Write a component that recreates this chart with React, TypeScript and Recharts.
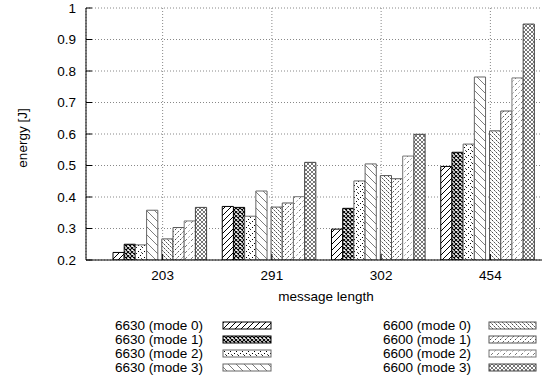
import React from 'react';
import { BarChart, Bar, XAxis, YAxis, CartesianGrid } from 'recharts';

const categories = ['203', '291', '302', '454'];
const s6630m0 = [0.224, 0.37, 0.298, 0.497];
const s6630m1 = [0.25, 0.367, 0.364, 0.542];
const s6630m2 = [0.248, 0.339, 0.451, 0.568];
const s6630m3 = [0.358, 0.419, 0.505, 0.781];
const s6600m0 = [0.267, 0.368, 0.468, 0.61];
const s6600m1 = [0.303, 0.381, 0.458, 0.673];
const s6600m2 = [0.324, 0.401, 0.53, 0.778];
const s6600m3 = [0.367, 0.51, 0.599, 0.949];
const yTicks = [0.2, 0.3, 0.4, 0.5, 0.6, 0.7, 0.8, 0.9, 1];

const series = [
  { key: 'a0', name: '6630 (mode 0)', values: s6630m0, pat: 'p0', stroke: '#000' },
  { key: 'a1', name: '6630 (mode 1)', values: s6630m1, pat: 'p1', stroke: '#000' },
  { key: 'a2', name: '6630 (mode 2)', values: s6630m2, pat: 'p2', stroke: '#666' },
  { key: 'a3', name: '6630 (mode 3)', values: s6630m3, pat: 'p3', stroke: '#666' },
  { key: 'b0', name: '6600 (mode 0)', values: s6600m0, pat: 'p4', stroke: '#555' },
  { key: 'b1', name: '6600 (mode 1)', values: s6600m1, pat: 'p5', stroke: '#555' },
  { key: 'b2', name: '6600 (mode 2)', values: s6600m2, pat: 'p6', stroke: '#777' },
  { key: 'b3', name: '6600 (mode 3)', values: s6600m3, pat: 'p7', stroke: '#444' },
];

const data = categories.map((c, i) => {
  const row: Record<string, any> = { name: c };
  series.forEach((s) => (row[s.key] = s.values[i]));
  return row;
});

const FONT = '"Liberation Sans", Arial, sans-serif';
const FS = 13.5;
const LEG_FS = 12.5;
const ROW = 14;

function Patterns() {
  return (
    <svg width={0} height={0} style={{ position: 'absolute' }}>
      <defs>
        <pattern id="p0" width={6} height={6} patternUnits="userSpaceOnUse">
          <rect width={6} height={6} fill="#fff" />
          <path d="M0,6 L6,0 M-1,1 L1,-1 M5,7 L7,5" stroke="#000" strokeWidth={1} />
        </pattern>
        <pattern id="p1" width={4} height={4} patternUnits="userSpaceOnUse">
          <rect width={4} height={4} fill="#fff" />
          <path d="M0,0 L4,4 M4,0 L0,4" stroke="#000" strokeWidth={1.1} />
        </pattern>
        <pattern id="p2" width={6} height={6} patternUnits="userSpaceOnUse">
          <rect width={6} height={6} fill="#fff" />
          <rect x={0} y={5} width={1} height={1} fill="#000" />
          <rect x={2} y={3} width={1} height={1} fill="#000" />
          <rect x={4} y={1} width={1} height={1} fill="#222" />
          <rect x={3} y={0} width={1} height={1} fill="#555" />
        </pattern>
        <pattern id="p3" width={8} height={8} patternUnits="userSpaceOnUse">
          <rect width={8} height={8} fill="#fff" />
          <path d="M0,0 L8,8 M-1,7 L1,9 M7,-1 L9,1" stroke="#444" strokeWidth={0.7} />
        </pattern>
        <pattern id="p4" width={4} height={4} patternUnits="userSpaceOnUse">
          <rect width={4} height={4} fill="#fff" />
          <path d="M0,0 L4,4" stroke="#333" strokeWidth={0.9} strokeDasharray="2 1" />
        </pattern>
        <pattern id="p5" width={5} height={5} patternUnits="userSpaceOnUse">
          <rect width={5} height={5} fill="#fff" />
          <path d="M0,5 L5,0" stroke="#333" strokeWidth={0.9} strokeDasharray="2 1.5" />
        </pattern>
        <pattern id="p6" width={6} height={6} patternUnits="userSpaceOnUse">
          <rect width={6} height={6} fill="#fff" />
          <path d="M0,6 L6,0" stroke="#555" strokeWidth={0.8} strokeDasharray="1.5 2" />
        </pattern>
        <pattern id="p7" width={4} height={4} patternUnits="userSpaceOnUse">
          <rect width={4} height={4} fill="#fff" />
          <path d="M0,0 L4,4 M4,0 L0,4" stroke="#555" strokeWidth={0.8} />
        </pattern>
      </defs>
    </svg>
  );
}

export default function App() {
  const left = series.slice(0, 4);
  const right = series.slice(4);
  return (
    <div
      style={{
        position: 'absolute',
        left: 0,
        top: 0,
        width: 542,
        height: 391,
        overflow: 'hidden',
        background: '#fff',
        fontFamily: FONT,
      }}
    >
      <Patterns />
      <BarChart
        width={600}
        height={300}
        data={data}
        margin={{ top: 8, right: 33, left: 0, bottom: 0 }}
        barGap={0}
        barCategoryGap={0}
      >
        <CartesianGrid stroke="#888" strokeDasharray="1 2" />
        <XAxis
          dataKey="name"
          height={40}
          padding={{ left: 22, right: 22 }}
          axisLine={{ stroke: '#000' }}
          tickLine={{ stroke: '#000' }}
          tickSize={-6}
          tickMargin={16}
          tick={{ fill: '#000', fontSize: FS, fontFamily: FONT }}
        />
        <XAxis
          xAxisId="top"
          dataKey="name"
          orientation="top"
          height={0}
          padding={{ left: 22, right: 22 }}
          axisLine={{ stroke: '#000' }}
          tickLine={{ stroke: '#000' }}
          tickSize={-6}
          tick={false}
        />
        <YAxis
          width={86}
          domain={[0.2, 1]}
          ticks={yTicks}
          allowDataOverflow
          axisLine={{ stroke: '#000' }}
          tickLine={{ stroke: '#000' }}
          tickSize={-6}
          tickMargin={16}
          tick={{ fill: '#000', fontSize: FS, fontFamily: FONT }}
        />
        {left.map((s) => (
          <Bar
            key={s.key}
            dataKey={s.key}
            barSize={11.2}
            fill={`url(#${s.pat})`}
            stroke={s.stroke}
            strokeWidth={1}
            isAnimationActive={false}
          />
        ))}
        <Bar dataKey="gapMid" barSize={4} isAnimationActive={false} />
        {right.map((s) => (
          <Bar
            key={s.key}
            dataKey={s.key}
            barSize={11.2}
            fill={`url(#${s.pat})`}
            stroke={s.stroke}
            strokeWidth={1}
            isAnimationActive={false}
          />
        ))}
        <Bar dataKey="gapEnd" barSize={5} isAnimationActive={false} />
      </BarChart>
      <svg
        width={542}
        height={391}
        style={{ position: 'absolute', left: 0, top: 0, pointerEvents: 'none' }}
        fontFamily={FONT}
        fontSize={FS}
      >
        <text x={22} y={138} textAnchor="middle" dominantBaseline="central" transform="rotate(-90 22 138)">
          energy [J]
        </text>
        <text x={326} y={301} textAnchor="middle">
          message length
        </text>
        {left.map((s, i) => (
          <g key={s.key}>
            <text x={115} y={330 + i * ROW} fontSize={LEG_FS} textLength={88} lengthAdjust="spacingAndGlyphs">
              {s.name}
            </text>
            <rect x={223} y={322 + i * ROW} width={48} height={7} fill={`url(#${s.pat})`} stroke={s.stroke} />
          </g>
        ))}
        {right.map((s, i) => (
          <g key={s.key}>
            <text x={383} y={330 + i * ROW} fontSize={LEG_FS} textLength={88} lengthAdjust="spacingAndGlyphs">
              {s.name}
            </text>
            <rect x={489} y={322 + i * ROW} width={47} height={7} fill={`url(#${s.pat})`} stroke={s.stroke} />
          </g>
        ))}
      </svg>
    </div>
  );
}
